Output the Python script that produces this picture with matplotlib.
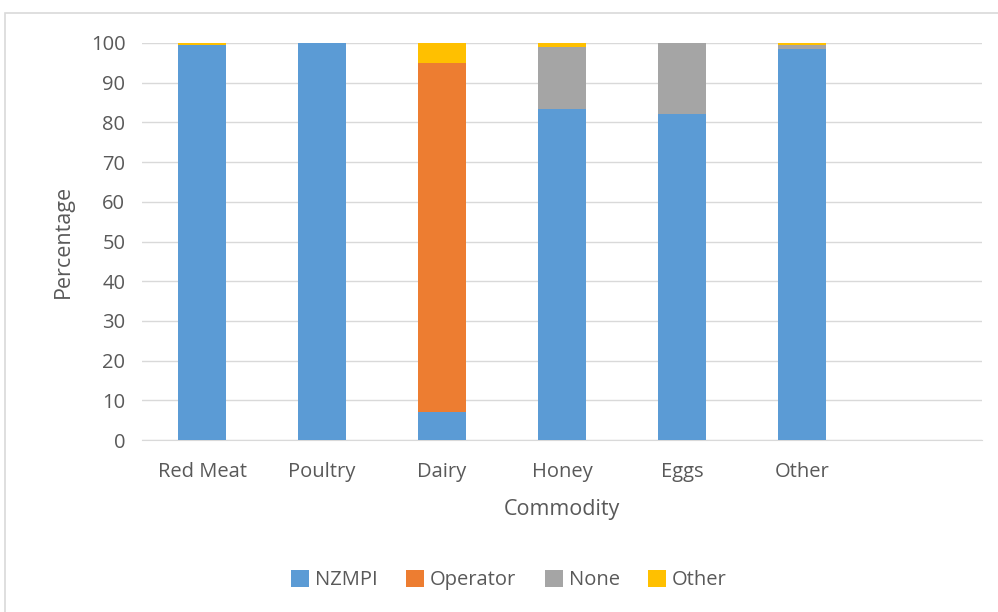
import matplotlib.pyplot as plt
import numpy as np

commodities = ["Red Meat", "Poultry", "Dairy", "Honey", "Eggs", "Other", ""]
nzmpi    = [99.6, 100.0, 7.0, 83.5, 82.0, 98.6, 0]
operator = [0.0, 0.0, 88.0, 0.0, 0.0, 0.0, 0]
none_    = [0.0, 0.0, 0.0, 15.6, 18.0, 1.0, 0]
other    = [0.4, 0.0, 5.0, 0.9, 0.0, 0.4, 0]

series = [("NZMPI", nzmpi, "#5b9bd5"),
          ("Operator", operator, "#ed7d31"),
          ("None", none_, "#a5a5a5"),
          ("Other", other, "#ffc000")]

plt.rcParams['font.family'] = ['Open Sans', 'DejaVu Sans']
txt = "#595959"

fig = plt.figure(figsize=(9.98, 6.12), dpi=100)
ax = fig.add_axes([142/998, 1-440/612, 840/998, 397/612])

# chart area border
fig.patches.append(plt.Rectangle((5/998, -0.1), 1.1, 1-13/612+0.1, transform=fig.transFigure,
                                 fill=False, edgecolor="#d9d9d9", linewidth=1.2))

x = np.arange(len(commodities))
bottom = np.zeros(len(commodities))
for name, vals, col in series:
    vals = np.array(vals)
    ax.bar(x, vals, 0.4, bottom=bottom, color=col, label=name, zorder=3)
    bottom += vals

ax.set_xlim(-0.5, len(commodities) - 0.5)
ax.set_ylim(0, 100)
ax.set_yticks(range(0, 101, 10))
ax.set_xticks(x)
ax.set_xticklabels(commodities)
ax.grid(axis="y", color="#d9d9d9", linewidth=1, zorder=0)
for s in ["top", "right", "left"]:
    ax.spines[s].set_visible(False)
ax.spines["bottom"].set_color("#d9d9d9")
ax.tick_params(length=0, labelsize=14.5, colors=txt, pad=12)
ax.tick_params(axis="x", pad=16)
ax.set_ylabel("Percentage", fontsize=15.5, color=txt, labelpad=12)
ax.set_xlabel("Commodity", fontsize=15.5, color=txt, labelpad=12)

fig.legend(loc="center", bbox_to_anchor=(0.51, 1-580/612), ncol=4, frameon=False,
           fontsize=14.5, labelcolor=txt, handlelength=0.9, handleheight=0.9,
           handletextpad=0.3, columnspacing=1.4)

fig.savefig("out.png", dpi=100)
